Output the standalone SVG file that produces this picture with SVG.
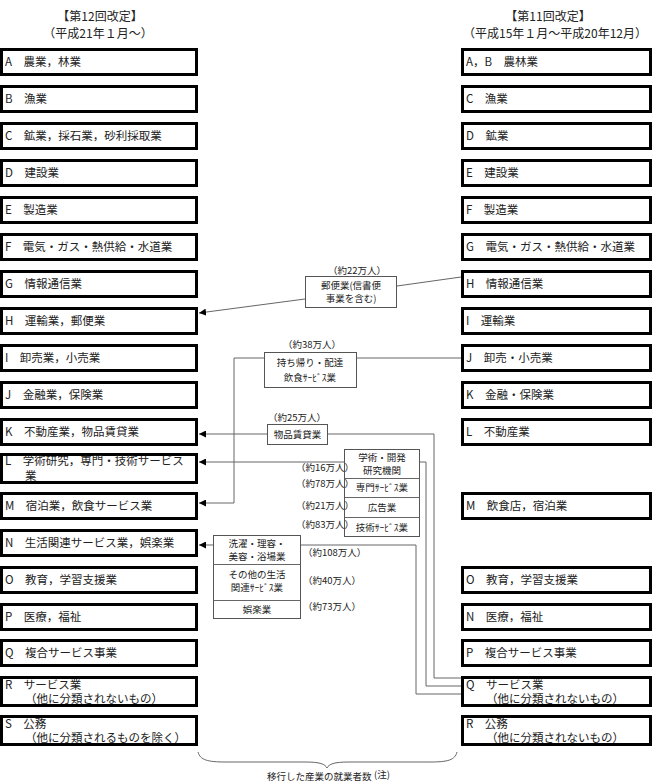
<svg xmlns="http://www.w3.org/2000/svg" width="660" height="782" viewBox="0 0 660 782">
  <style>
    text { font-family: "Noto Sans CJK JP", "Liberation Serif", sans-serif; fill: #222; }
    .hd { font-size: 12px; text-anchor: middle; }
    .cat { font-size: 11.5px; }
    .big { fill: #fff; stroke: #000; stroke-width: 3; }
    .sm { fill: #fff; stroke: #555; stroke-width: 1; }
    .sub { font-size: 9.5px; text-anchor: middle; }
    .num { font-size: 9.5px; }
    .ln { fill: none; stroke: #666; stroke-width: 1; }
  </style>
  <defs>
    <marker id="arr" viewBox="0 0 8 8" refX="8" refY="4" markerWidth="7" markerHeight="7" markerUnits="userSpaceOnUse" orient="auto">
      <path d="M0,0 L8,4 L0,8 Z" fill="#000"/>
    </marker>
  </defs>
  <rect width="660" height="782" fill="#fff"/>

  <!-- column headings -->
  <g id="head-new">
    <text class="hd" x="100" y="21">【第12回改定】</text>
    <text class="hd" x="98" y="38">（平成21年１月～）</text>
  </g>
  <g id="head-old">
    <text class="hd" x="548" y="21">【第11回改定】</text>
    <text class="hd" x="555" y="38">（平成15年１月～平成20年12月）</text>
  </g>

  <!-- 12th revision divisions -->
  <g id="new-A"><rect class="big" x="1.5" y="49.5" width="195" height="25"/><text class="cat" x="5" y="66">A　農業，林業</text></g>
  <g id="new-B"><rect class="big" x="1.5" y="86.5" width="195" height="25"/><text class="cat" x="5" y="103">B　漁業</text></g>
  <g id="new-C"><rect class="big" x="1.5" y="123.5" width="195" height="25"/><text class="cat" x="5" y="140">C　鉱業，採石業，砂利採取業</text></g>
  <g id="new-D"><rect class="big" x="1.5" y="160.5" width="195" height="25"/><text class="cat" x="5" y="177">D　建設業</text></g>
  <g id="new-E"><rect class="big" x="1.5" y="197.5" width="195" height="25"/><text class="cat" x="5" y="214">E　製造業</text></g>
  <g id="new-F"><rect class="big" x="1.5" y="234.5" width="195" height="25"/><text class="cat" x="5" y="251">F　電気・ガス・熱供給・水道業</text></g>
  <g id="new-G"><rect class="big" x="1.5" y="271.5" width="195" height="25"/><text class="cat" x="5" y="288">G　情報通信業</text></g>
  <g id="new-H"><rect class="big" x="1.5" y="308.5" width="195" height="25"/><text class="cat" x="5" y="325">H　運輸業，郵便業</text></g>
  <g id="new-I"><rect class="big" x="1.5" y="345.5" width="195" height="25"/><text class="cat" x="5" y="362">I　卸売業，小売業</text></g>
  <g id="new-J"><rect class="big" x="1.5" y="382.5" width="195" height="25"/><text class="cat" x="5" y="399">J　金融業，保険業</text></g>
  <g id="new-K"><rect class="big" x="1.5" y="419.5" width="195" height="25"/><text class="cat" x="5" y="436">K　不動産業，物品賃貸業</text></g>
  <g id="new-L"><rect class="big" x="1.5" y="454.5" width="195" height="28"/><text class="cat" x="5" y="465" font-size="11">L　学術研究，専門・技術サービス</text><text class="cat" x="25" y="480" font-size="11">業</text></g>
  <g id="new-M"><rect class="big" x="1.5" y="493.5" width="195" height="25"/><text class="cat" x="5" y="510">M　宿泊業，飲食サービス業</text></g>
  <g id="new-N"><rect class="big" x="1.5" y="530.5" width="195" height="25"/><text class="cat" x="5" y="547">N　生活関連サービス業，娯楽業</text></g>
  <g id="new-O"><rect class="big" x="1.5" y="567.5" width="195" height="25"/><text class="cat" x="5" y="584">O　教育，学習支援業</text></g>
  <g id="new-P"><rect class="big" x="1.5" y="604.5" width="195" height="25"/><text class="cat" x="5" y="621">P　医療，福祉</text></g>
  <g id="new-Q"><rect class="big" x="1.5" y="640.5" width="195" height="25"/><text class="cat" x="5" y="657">Q　複合サービス事業</text></g>
  <g id="new-R"><rect class="big" x="1.5" y="677.5" width="195" height="28"/><text class="cat" x="5" y="689">R　サービス業</text><text class="cat" x="25" y="703">（他に分類されないもの）</text></g>
  <g id="new-S"><rect class="big" x="1.5" y="716.5" width="195" height="28"/><text class="cat" x="5" y="728">S　公務</text><text class="cat" x="25" y="742">（他に分類されるものを除く）</text></g>

  <!-- 11th revision divisions -->
  <g id="old-AB"><rect class="big" x="462.5" y="49.5" width="188" height="25"/><text class="cat" x="466" y="66">A，B　農林業</text></g>
  <g id="old-C"><rect class="big" x="462.5" y="86.5" width="188" height="25"/><text class="cat" x="466" y="103">C　漁業</text></g>
  <g id="old-D"><rect class="big" x="462.5" y="123.5" width="188" height="25"/><text class="cat" x="466" y="140">D　鉱業</text></g>
  <g id="old-E"><rect class="big" x="462.5" y="160.5" width="188" height="25"/><text class="cat" x="466" y="177">E　建設業</text></g>
  <g id="old-F"><rect class="big" x="462.5" y="197.5" width="188" height="25"/><text class="cat" x="466" y="214">F　製造業</text></g>
  <g id="old-G"><rect class="big" x="462.5" y="234.5" width="188" height="25"/><text class="cat" x="466" y="251">G　電気・ガス・熱供給・水道業</text></g>
  <g id="old-H"><rect class="big" x="462.5" y="271.5" width="188" height="25"/><text class="cat" x="466" y="288">H　情報通信業</text></g>
  <g id="old-I"><rect class="big" x="462.5" y="308.5" width="188" height="25"/><text class="cat" x="466" y="325">I　運輸業</text></g>
  <g id="old-J"><rect class="big" x="462.5" y="345.5" width="188" height="25"/><text class="cat" x="466" y="362">J　卸売・小売業</text></g>
  <g id="old-K"><rect class="big" x="462.5" y="382.5" width="188" height="25"/><text class="cat" x="466" y="399">K　金融・保険業</text></g>
  <g id="old-L"><rect class="big" x="462.5" y="419.5" width="188" height="25"/><text class="cat" x="466" y="436">L　不動産業</text></g>
  <g id="old-M"><rect class="big" x="462.5" y="493.5" width="188" height="25"/><text class="cat" x="466" y="510">M　飲食店，宿泊業</text></g>
  <g id="old-O"><rect class="big" x="462.5" y="567.5" width="188" height="25"/><text class="cat" x="466" y="584">O　教育，学習支援業</text></g>
  <g id="old-N"><rect class="big" x="462.5" y="604.5" width="188" height="25"/><text class="cat" x="466" y="621">N　医療，福祉</text></g>
  <g id="old-P"><rect class="big" x="462.5" y="640.5" width="188" height="25"/><text class="cat" x="466" y="657">P　複合サービス事業</text></g>
  <g id="old-Q"><rect class="big" x="462.5" y="677.5" width="188" height="28"/><text class="cat" x="466" y="689">Q　サービス業</text><text class="cat" x="486" y="703">（他に分類されないもの）</text></g>
  <g id="old-R"><rect class="big" x="462.5" y="716.5" width="188" height="28"/><text class="cat" x="466" y="728">R　公務</text><text class="cat" x="486" y="742">（他に分類されないもの）</text></g>

  <!-- connectors -->
  <g id="connectors">
    <line class="ln" x1="461" y1="277" x2="397" y2="286"/>
    <line class="ln" x1="305" y1="299" x2="199" y2="313" marker-end="url(#arr)"/>
    <line class="ln" x1="461" y1="358" x2="357" y2="358"/>
    <polyline class="ln" points="264,358 234,358 234,503 199,503" marker-end="url(#arr)"/>
    <line class="ln" x1="267" y1="434" x2="199" y2="434" marker-end="url(#arr)"/>
    <polyline class="ln" points="328,434 434,434 434,678 461,678"/>
    <line class="ln" x1="344" y1="462" x2="199" y2="462" marker-end="url(#arr)"/>
    <polyline class="ln" points="420,462 426,462 426,686 461,686"/>
    <line class="ln" x1="213" y1="545" x2="199" y2="545" marker-end="url(#arr)"/>
    <polyline class="ln" points="301,545 416,545 416,694 461,694"/>
  </g>

  <!-- moved industries -->
  <g id="post">
    <text class="num" x="328" y="274">（約22万人）</text>
    <rect class="sm" x="305.5" y="276.5" width="91" height="31"/>
    <text class="sub" x="351" y="289">郵便業(信書便</text>
    <text class="sub" x="351" y="302">事業を含む)</text>
  </g>
  <g id="takeout">
    <text class="num" x="283" y="348">（約38万人）</text>
    <rect class="sm" x="264.5" y="352.5" width="92" height="35"/>
    <text class="sub" x="310" y="366">持ち帰り・配達</text>
    <text class="sub" x="310" y="381">飲食ｻｰﾋﾞｽ業</text>
  </g>
  <g id="rental">
    <text class="num" x="268" y="421">（約25万人）</text>
    <rect class="sm" x="267.5" y="424.5" width="60" height="20"/>
    <text class="sub" x="297.5" y="438">物品賃貸業</text>
  </g>
  <g id="academic">
    <rect class="sm" x="344.5" y="449.5" width="75" height="87"/>
    <line class="ln" x1="344.5" y1="478.5" x2="419.5" y2="478.5"/>
    <line class="ln" x1="344.5" y1="497.5" x2="419.5" y2="497.5"/>
    <line class="ln" x1="344.5" y1="517.5" x2="419.5" y2="517.5"/>
    <text class="sub" x="382" y="461">学術・開発</text>
    <text class="sub" x="382" y="474">研究機関</text>
    <text class="sub" x="382" y="491">専門ｻｰﾋﾞｽ業</text>
    <text class="sub" x="382" y="511">広告業</text>
    <text class="sub" x="382" y="531">技術ｻｰﾋﾞｽ業</text>
    <text class="num" x="296" y="471">（約16万人）</text>
    <text class="num" x="296" y="487">（約78万人）</text>
    <text class="num" x="296" y="509">（約21万人）</text>
    <text class="num" x="296" y="528">（約83万人）</text>
  </g>
  <g id="living">
    <rect class="sm" x="213.5" y="535.5" width="87" height="83"/>
    <line class="ln" x1="213.5" y1="564.5" x2="300.5" y2="564.5"/>
    <line class="ln" x1="213.5" y1="600.5" x2="300.5" y2="600.5"/>
    <text class="sub" x="257" y="547">洗濯・理容・</text>
    <text class="sub" x="257" y="560">美容・浴場業</text>
    <text class="sub" x="257" y="578">その他の生活</text>
    <text class="sub" x="257" y="591">関連ｻｰﾋﾞｽ業</text>
    <text class="sub" x="257" y="613">娯楽業</text>
    <text class="num" x="303" y="556">（約108万人）</text>
    <text class="num" x="303" y="584">（約40万人）</text>
    <text class="num" x="303" y="610">（約73万人）</text>
  </g>

  <!-- brace and its caption -->
  <g id="brace">
    <path class="ln" d="M198,752 C200,760 208,762 225,762 L305,762 C320,762 325,764 327,768 C329,764 334,762 349,762 L430,762 C448,762 455,760 457,752"/>
    <text class="num" x="267" y="780">移行した産業の就業者数</text>
    <text class="num" x="374" y="778" font-size="8">(注)</text>
  </g>
</svg>
